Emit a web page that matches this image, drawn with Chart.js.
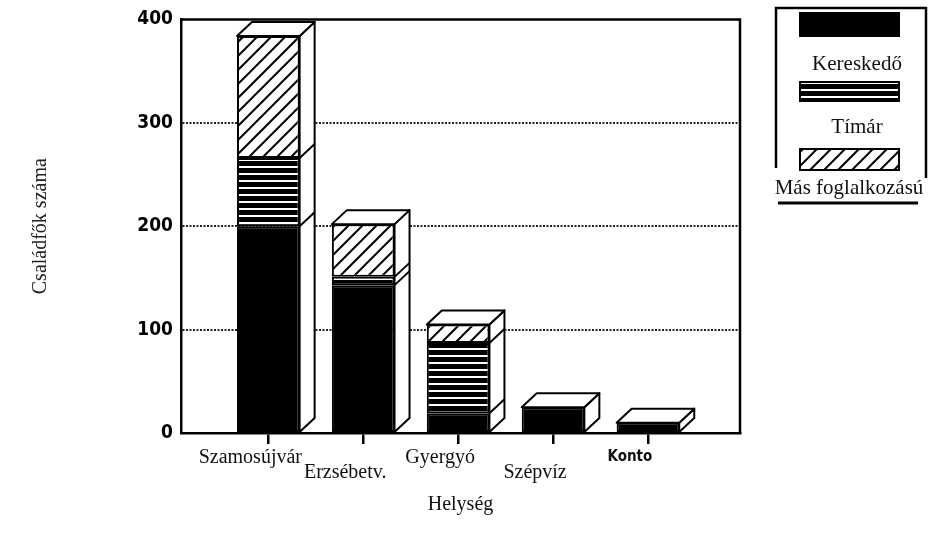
<!DOCTYPE html>
<html>
<head>
<meta charset="utf-8">
<title>Családfők száma helységenként</title>
<script src="https://cdn.jsdelivr.net/npm/chart.js@4.4.1/dist/chart.umd.min.js"></script>
<style>
  body { margin: 0; background: #fff; }
  #wrap { width: 932px; height: 536px; }
</style>
</head>
<body>
<div id="wrap"><canvas id="chart"></canvas></div>
<script>
// data
const categories = ['Szamosújvár', 'Erzsébetv.', 'Gyergyó', 'Szépvíz', 'Konto'];
const kereskedo = [200, 143, 19, 25, 10];
const timar = [66, 8, 68, 0, 0];
const mas = [118, 51, 18, 0, 0];
const seriesNames = ['Kereskedő', 'Tímár', 'Más foglalkozású'];
const yTicks = [0, 100, 200, 300, 400];
const xTitle = 'Helység';
const yTitle = 'Családfők száma';

const serif = "'Liberation Serif', 'Times New Roman', serif";
const narrow = "'Liberation Sans Narrow', 'DejaVu Sans Condensed', 'Liberation Sans', Arial, sans-serif";

const canvas = document.getElementById('chart');
const ctx = canvas.getContext('2d');

// fill patterns
function stripes() {
    const c = document.createElement('canvas');
    c.width = 8; c.height = 7;
    const g = c.getContext('2d');
    g.fillStyle = '#000'; g.fillRect(0, 0, 8, 7);
    g.fillStyle = '#fff'; g.fillRect(0, 5, 8, 2);
    return ctx.createPattern(c, 'repeat');
}

function hatch() {
    const s = 14;
    const c = document.createElement('canvas');
    c.width = s; c.height = s;
    const g = c.getContext('2d');
    g.fillStyle = '#fff'; g.fillRect(0, 0, s, s);
    g.strokeStyle = '#000'; g.lineWidth = 2;
    g.beginPath();
    g.moveTo(0, s); g.lineTo(s, 0);
    g.moveTo(-s / 2, s / 2); g.lineTo(s / 2, -s / 2);
    g.moveTo(s / 2, s * 1.5); g.lineTo(s * 1.5, s / 2);
    g.stroke();
    return ctx.createPattern(c, 'repeat');
}

const fills = ['#000', stripes(), hatch()];
const series = [kereskedo, timar, mas];

// depth of the fake 3D boxes
const dx = 15, dy = 14;

const bars3d = {
    id: 'bars3d',
    beforeDatasetsDraw(chart) {
        // frame: top and right side of the plot box
        const a = chart.chartArea;
        const c = chart.ctx;
        c.save();
        c.strokeStyle = '#000';
        c.lineWidth = 2.5;
        c.beginPath();
        c.moveTo(a.left, a.top);
        c.lineTo(a.right, a.top);
        c.lineTo(a.right, a.bottom);
        c.stroke();
        c.restore();
    },
    afterDatasetsDraw(chart) {
        const c = chart.ctx;
        const metas = chart.data.datasets.map((d, i) => chart.getDatasetMeta(i));
        c.save();
        c.strokeStyle = '#000';
        c.lineWidth = 2;
        c.lineJoin = 'round';
        c.fillStyle = '#fff';
        categories.forEach((cat, j) => {
            const els = metas.map(m => m.data[j]).filter((el, i) => series[i][j] > 0);
            if (!els.length) return;
            const w = els[0].width;
            const L = els[0].x - w / 2, R = els[0].x + w / 2;
            const base = els[0].base;
            const top = Math.min(...els.map(e => e.y));
            // side face
            c.beginPath();
            c.moveTo(R, top); c.lineTo(R + dx, top - dy);
            c.lineTo(R + dx, base - dy); c.lineTo(R, base);
            c.closePath(); c.fill(); c.stroke();
            // top face
            c.beginPath();
            c.moveTo(L, top); c.lineTo(L + dx, top - dy);
            c.lineTo(R + dx, top - dy); c.lineTo(R, top);
            c.closePath(); c.fill(); c.stroke();
            // joints between stacked parts
            els.forEach(e => {
                if (e.y > top + 0.5) {
                    c.beginPath();
                    c.moveTo(R, e.y); c.lineTo(R + dx, e.y - dy);
                    c.stroke();
                }
            });
        });
        c.restore();
    }
};

const legendBox = {
    id: 'legendBox',
    afterDraw(chart) {
        const c = chart.ctx;
        const swatchTop = [13, 82, 149];
        const swatchH = [23, 19, 21];
        const textY = [64, 127, 188];
        const textX = [857, 857, 849];
        c.save();
        c.strokeStyle = '#000';
        c.lineWidth = 2.5;
        c.beginPath();
        c.moveTo(776, 168); c.lineTo(776, 8); c.lineTo(926, 8); c.lineTo(926, 178);
        c.stroke();
        c.lineWidth = 3;
        c.beginPath();
        c.moveTo(778, 203); c.lineTo(918, 203);
        c.stroke();
        c.lineWidth = 2;
        c.font = '21px ' + serif;
        c.textAlign = 'center';
        c.textBaseline = 'middle';
        chart.data.datasets.forEach((ds, i) => {
            c.fillStyle = ds.backgroundColor;
            c.fillRect(800, swatchTop[i], 99, swatchH[i]);
            c.strokeRect(800, swatchTop[i], 99, swatchH[i]);
            c.fillStyle = '#111';
            c.fillText(ds.label, textX[i], textY[i]);
        });
        c.restore();
    }
};

new Chart(ctx, {
    type: 'bar',
    data: {
        datasets: series.map((vals, i) => ({
            label: seriesNames[i],
            data: vals.map((v, j) => ({ x: j + 1, y: v })),
            backgroundColor: fills[i],
            borderColor: '#000',
            borderWidth: 2,
            borderSkipped: false,
            categoryPercentage: 1,
            barPercentage: 0.66
        }))
    },
    options: {
        responsive: true,
        maintainAspectRatio: false,
        animation: false,
        events: [],
        layout: { padding: { left: 10, right: 192, top: 13, bottom: 0 } },
        plugins: {
            legend: { display: false },
            tooltip: { enabled: false }
        },
        scales: {
            x: {
                type: 'linear',
                stacked: true,
                offset: false,
                bounds: 'data',
                min: 0.08,
                max: 5.97,
                afterBuildTicks: s => { s.ticks = categories.map((c, i) => ({ value: i + 1 })); },
                afterFit: s => { s.height = 103; },
                ticks: {
                    autoSkip: false,
                    maxRotation: 0,
                    padding: 6,
                    labelOffset: -18,
                    color: '#111',
                    callback: (v, i) => i % 2 ? ['', categories[i]] : categories[i],
                    font: c => c.index === 4
                        ? { family: narrow, size: 15, weight: 'bold', lineHeight: 1 }
                        : { family: serif, size: 20, lineHeight: 0.75 }
                },
                grid: { offset: false, drawOnChartArea: false, drawTicks: true, tickLength: 11, color: '#000', lineWidth: 2.5 },
                border: { color: '#000', width: 2.5 },
                title: {
                    display: true,
                    text: xTitle,
                    color: '#111',
                    font: { family: serif, size: 20 },
                    padding: { top: 0, bottom: 19 }
                }
            },
            y: {
                stacked: true,
                min: 0,
                max: 400,
                afterBuildTicks: s => { s.ticks = yTicks.map(v => ({ value: v })); },
                afterFit: s => { s.width = 171; },
                ticks: { padding: 8, color: '#000', font: { family: narrow, size: 19, weight: '600' } },
                grid: {
                    drawTicks: false,
                    lineWidth: 2,
                    color: c => (c.tick && c.tick.value > 0 && c.tick.value < 400) ? '#222' : 'rgba(0,0,0,0)'
                },
                border: { color: '#000', width: 2.5, dash: [2, 1.5] },
                title: {
                    display: true,
                    text: yTitle,
                    color: '#222',
                    font: { family: serif, size: 20 },
                    padding: { top: 19, bottom: 0 }
                }
            }
        }
    },
    plugins: [bars3d, legendBox]
});
</script>
</body>
</html>
